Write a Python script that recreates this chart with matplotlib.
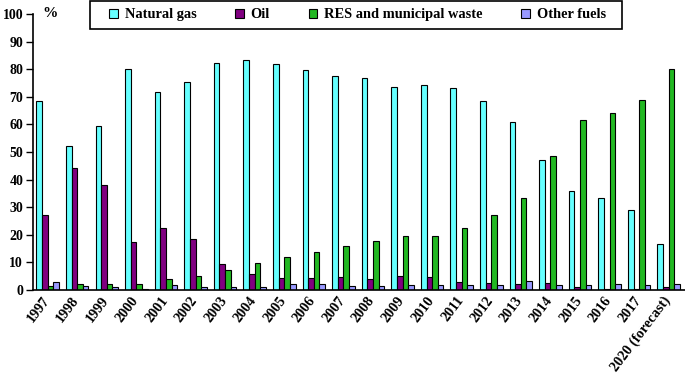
import numpy as np
import matplotlib.pyplot as plt
from matplotlib.patches import Patch, Rectangle

years = ["1997", "1998", "1999", "2000", "2001", "2002", "2003", "2004", "2005",
         "2006", "2007", "2008", "2009", "2010", "2011", "2012", "2013", "2014",
         "2015", "2016", "2017", "2020 (forecast)"]

natural_gas = [68.4, 52.3, 59.3, 80.0, 71.8, 75.3, 82.1, 83.5, 81.8, 79.6, 77.4,
               76.9, 73.6, 74.4, 73.0, 68.3, 61.0, 47.2, 35.9, 33.4, 29.1, 16.8]
oil = [27.3, 44.2, 38.1, 17.3, 22.6, 18.6, 9.4, 5.7, 4.5, 4.5, 4.8,
       4.0, 5.2, 4.8, 2.7, 2.5, 2.0, 2.6, 1.0, 0.5, 0.5, 0.9]
res_waste = [1.4, 2.2, 2.2, 2.2, 3.9, 5.2, 7.3, 9.9, 12.1, 13.9, 15.9,
             17.8, 19.4, 19.4, 22.5, 27.3, 33.3, 48.5, 61.4, 64.0, 68.8, 80.0]
other_fuels = [3.0, 1.4, 1.0, 0.5, 1.7, 1.0, 1.0, 1.0, 2.2, 2.2, 1.4,
               1.4, 1.7, 1.7, 1.7, 1.7, 3.4, 1.7, 1.7, 2.2, 1.7, 2.2]

series = [
    ("Natural gas", natural_gas, "#66FFFF"),
    ("Oil", oil, "#800080"),
    ("RES and municipal waste", res_waste, "#22B822"),
    ("Other fuels", other_fuels, "#9999FF"),
]

plt.rcParams['font.family'] = ['Liberation Serif', 'DejaVu Serif']
plt.rcParams['font.weight'] = 'bold'

fig = plt.figure(figsize=(6.85, 3.78), dpi=100)
ax = fig.add_axes([0.048, 0.233, 0.952, 0.730])

x = np.arange(len(years))
bw = 0.19
for i, (name, vals, col) in enumerate(series):
    ax.bar(x + (i - 1.5) * bw, vals, width=bw, color=col,
           edgecolor="black", linewidth=0.8, label=name)

ax.set_xlim(-0.5, len(years) - 0.45)
ax.set_ylim(0, 100)
ax.set_yticks(np.arange(0, 101, 10))
ax.tick_params(axis="y", direction="out", length=5, width=1, labelsize=10, pad=2)
ax.tick_params(axis="x", length=0, labelsize=10.3, pad=3)
ax.set_xticks(x - 0.2)
ax.set_xticklabels(years, rotation=53, ha="right", rotation_mode="anchor")
for lab in ax.get_xticklabels() + ax.get_yticklabels():
    lab.set_fontweight("bold")

ax.spines["top"].set_visible(False)
ax.spines["right"].set_visible(False)
ax.spines["left"].set_linewidth(1.2)
ax.spines["bottom"].set_linewidth(1.2)

ax.text(0.014, 100, "%", transform=ax.get_yaxis_transform(), fontsize=11,
        fontweight="bold", va="center", ha="left")

# legend in one row, with its own box
handles = [Patch(facecolor=c, edgecolor="black", linewidth=0.8, label=n) for n, _, c in series]
fig.legend(handles=handles, loc="center", bbox_to_anchor=(0.522, 0.961),
           ncol=4, frameon=False, prop={"weight": "bold", "size": 10.4},
           handlelength=0.6, handleheight=0.6, handletextpad=0.45,
           columnspacing=2.7, borderpad=0, borderaxespad=0)
fig.patches.append(Rectangle((90 / 685, 1 - 29 / 378), 532 / 685, 28 / 378,
                             transform=fig.transFigure, fill=False,
                             edgecolor="black", linewidth=1.2))

fig.savefig("out.png", dpi=100)
